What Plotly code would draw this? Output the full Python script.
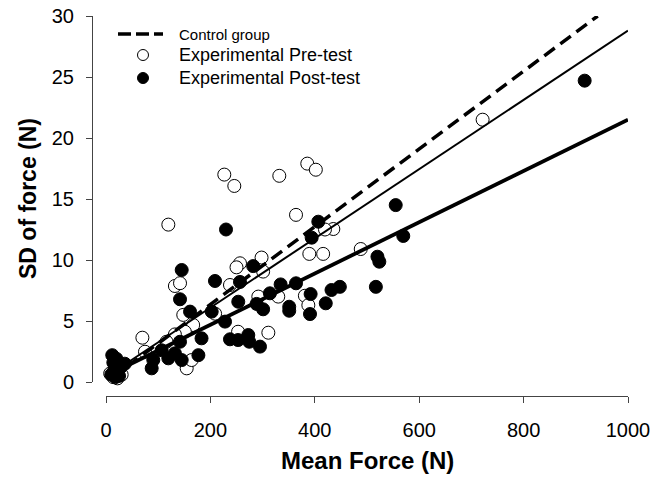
import plotly.graph_objects as go

# ---------------- data ----------------
pre_x = [226.6, 245.8, 119.4, 256.7, 250, 298, 301, 132, 141.8, 237.5, 291.8, 148, 167, 151,
         132, 69.7, 74.7, 116, 154.6, 164, 253, 311, 209, 332, 385.6, 402, 364, 435.5, 419.5,
         389.5, 416, 488, 330, 381, 387.6, 721.5, 8, 14, 22, 30, 18]
pre_y = [17.0, 16.07, 12.9, 9.73, 9.4, 10.2, 9.05, 7.87, 8.1, 7.95, 7.0, 5.5, 4.67, 4.12,
         3.9, 3.63, 2.48, 3.3, 1.12, 1.8, 4.12, 4.04, 5.6, 16.9, 17.9, 17.4, 13.7, 12.54, 12.5,
         10.5, 10.5, 10.9, 7.0, 7.07, 6.3, 21.5, 0.7, 0.4, 0.3, 0.6, 1.1]

post_x = [229.9, 145, 208.8, 256.7, 282, 141.8, 161, 202.5, 228, 253.4, 288.5, 301, 314,
          237.5, 253, 272.6, 274.5, 295, 183, 177, 141.8, 132, 145, 119.4, 90.6, 87.5, 106.6,
          555, 569.5, 406.7, 394, 334.5, 364, 392, 432, 448, 520, 523.6, 517, 421, 351, 351,
          390.8, 917, 12, 14, 20, 16, 22, 28, 10, 25, 18, 36]
post_y = [12.5, 9.18, 8.28, 8.2, 9.5, 6.78, 5.77, 5.77, 4.95, 6.58, 6.4, 5.96, 7.27,
          3.5, 3.44, 3.85, 3.3, 2.9, 3.58, 2.2, 3.3, 2.35, 1.8, 1.94, 1.8, 1.12, 2.6,
          14.5, 11.97, 13.14, 11.83, 8.0, 8.09, 7.21, 7.54, 7.8, 10.27, 9.86, 7.8, 6.45, 6.17, 5.84,
          5.57, 24.7, 2.2, 1.6, 1.9, 1.0, 0.7, 1.2, 0.6, 0.5, 0.4, 1.5]

# regression lines (end points)
control_fit_x = [10, 942]
control_fit_y = [0.3, 30.0]
pre_fit_x = [10, 1000]
pre_fit_y = [0.7, 28.8]
post_fit_x = [10, 1000]
post_fit_y = [0.7, 21.5]

x_ticks = [0, 200, 400, 600, 800, 1000]
y_ticks = [0, 5, 10, 15, 20, 25, 30]

legend_labels = ["Control group", "Experimental Pre-test", "Experimental Post-test"]

# ---------------- figure ----------------
W, H = 654, 478
FONT = "Liberation Sans, Arial, sans-serif"


def px(x):
    return x / W


def py(y):
    return (H - y) / H


fig = go.Figure()

fig.add_trace(go.Scatter(
    x=pre_x, y=pre_y, mode="markers", name=legend_labels[1],
    marker=dict(size=13, color="white", line=dict(color="black", width=1)),
    showlegend=False, cliponaxis=False))
fig.add_trace(go.Scatter(
    x=post_x, y=post_y, mode="markers", name=legend_labels[2],
    marker=dict(size=13, color="black", line=dict(color="black", width=1)),
    showlegend=False, cliponaxis=False))

fig.add_trace(go.Scatter(
    x=control_fit_x, y=control_fit_y, mode="lines", name=legend_labels[0],
    line=dict(color="black", width=3.5, dash="13px,7px"), showlegend=False))
fig.add_trace(go.Scatter(
    x=pre_fit_x, y=pre_fit_y, mode="lines",
    line=dict(color="black", width=2), showlegend=False))
fig.add_trace(go.Scatter(
    x=post_fit_x, y=post_fit_y, mode="lines",
    line=dict(color="black", width=3.8), showlegend=False))

axis_common = dict(
    showgrid=False, zeroline=False, showline=True, linecolor="#444", linewidth=1,
    ticks="outside", ticklen=6, tickcolor="#444", tickwidth=1, automargin=False,
    tickfont=dict(family=FONT, size=20, color="black"),
)

fig.update_layout(
    width=W, height=H,
    margin=dict(l=0, r=0, t=0, b=0, pad=0, autoexpand=False),
    paper_bgcolor="white", plot_bgcolor="white",
    xaxis=dict(domain=[px(106), px(628)], range=[0, 1000], tickvals=x_ticks,
               anchor="free", position=py(396), ticklabelstandoff=10, **axis_common),
    yaxis=dict(domain=[py(382), py(16)], range=[0, 30], tickvals=y_ticks,
               anchor="free", position=px(92), ticklabelstandoff=8, **axis_common),
    showlegend=False,
)

# axis titles
fig.add_annotation(text="<b>SD of force (N)</b>", xref="paper", yref="paper",
                   x=px(28), y=py(199), textangle=-90, showarrow=False,
                   font=dict(family=FONT, size=23, color="black"),
                   xanchor="center", yanchor="middle")
fig.add_annotation(text="<b>Mean Force (N)</b>", xref="paper", yref="paper",
                   x=px(367), y=py(460), showarrow=False,
                   font=dict(family=FONT, size=24, color="black"),
                   xanchor="center", yanchor="middle")

# manual legend
rows = [34, 55, 78]
fig.add_shape(type="line", xref="paper", yref="paper",
              x0=px(118), x1=px(163), y0=py(rows[0]), y1=py(rows[0]),
              line=dict(color="black", width=3.5, dash="13px,5px"))
r = 5.5
fig.add_shape(type="circle", xref="paper", yref="paper",
              x0=px(143 - r), x1=px(143 + r), y0=py(rows[1] + r), y1=py(rows[1] - r),
              line=dict(color="black", width=1), fillcolor="white")
fig.add_shape(type="circle", xref="paper", yref="paper",
              x0=px(143 - r), x1=px(143 + r), y0=py(rows[2] + r), y1=py(rows[2] - r),
              line=dict(color="black", width=1), fillcolor="black")
for label, row, size in zip(legend_labels, rows, [15, 18, 18]):
    fig.add_annotation(text=label, xref="paper", yref="paper", x=px(177), y=py(row),
                       xanchor="left", yanchor="middle", showarrow=False,
                       font=dict(family=FONT, size=size, color="black"))

fig.write_html("out.html", config={"displayModeBar": False},
               post_script="document.body.style.margin='0';")
